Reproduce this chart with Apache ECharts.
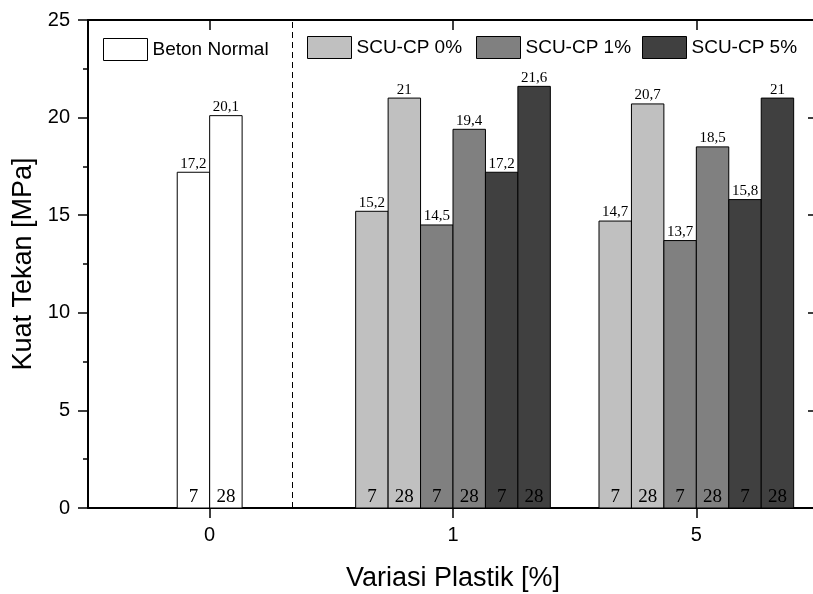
<!DOCTYPE html>
<html>
<head>
<meta charset="utf-8">
<script src="https://cdn.jsdelivr.net/npm/echarts@6/dist/echarts.min.js"></script>
<style>
html,body{margin:0;padding:0;background:#fff;}
#chart{width:813px;height:594px;}
</style>
</head>
<body>
<div id="chart"></div>
<script>
// ---- data ----
const categories = ['0', '1', '5'];
const ageLabels = ['7', '28'];
const mixNames = ['Beton Normal', 'SCU-CP 0%', 'SCU-CP 1%', 'SCU-CP 5%'];
const mixColors = ['#ffffff', '#c0c0c0', '#808080', '#404040'];
// category index for each mix's values
const betonCats = [0];
const scuCats = [1, 2];
const beton7 = [17.2];
const beton28 = [20.1];
const scu0_7 = [15.2, 14.7];
const scu0_28 = [21, 20.7];
const scu1_7 = [14.5, 13.7];
const scu1_28 = [19.4, 18.5];
const scu5_7 = [17.2, 15.8];
const scu5_28 = [21.6, 21];
const yTicks = [0, 5, 10, 15, 20, 25];
const separatorAt = 0.34;

const FONT = '"Liberation Sans", Arial, sans-serif';
const SERIF = '"Liberation Serif", "Times New Roman", serif';
const barFrac = 2 / 15;

function fmt(v) { return String(v).replace('.', ','); }

function build(cats, v7, v28) {
  return cats.map((c, i) => [c, v7[i], v28[i]]);
}

function makeSeries(mixIdx, slot, mixCount, data) {
  return {
    type: 'custom',
    name: mixNames[mixIdx],
    xAxisIndex: 0,
    yAxisIndex: 0,
    itemStyle: { color: mixColors[mixIdx], borderColor: '#000', borderWidth: 1 },
    encode: { x: 0, y: [1, 2] },
    data: data,
    z: 3,
    renderItem: function (params, api) {
      const cat = api.value(0);
      const base = api.coord([cat, 0]);
      const spacing = api.size([1, 0])[0];
      const w = spacing * barFrac;
      const nBars = mixCount * 2;
      const children = [];
      for (let k = 0; k < 2; k++) {
        const val = api.value(1 + k);
        const top = api.coord([cat, val])[1];
        const left = base[0] - nBars / 2 * w + (slot * 2 + k) * w;
        children.push({
          type: 'rect',
          shape: { x: left, y: top, width: w, height: base[1] - top },
          style: { fill: mixColors[mixIdx], stroke: '#000', lineWidth: 1 }
        });
        children.push({
          type: 'text',
          style: {
            x: left + w / 2, y: top - 1, text: fmt(val),
            textAlign: 'center', textVerticalAlign: 'bottom',
            font: '15px ' + SERIF, fill: '#000'
          }
        });
        children.push({
          type: 'text',
          style: {
            x: left + w / 2, y: base[1] - 11, text: ageLabels[k],
            textAlign: 'center', textVerticalAlign: 'middle',
            font: '19px ' + SERIF, fill: '#000'
          }
        });
      }
      return { type: 'group', children: children };
    }
  };
}

const series = [
  makeSeries(0, 0, 1, build(betonCats, beton7, beton28)),
  makeSeries(1, 0, 3, build(scuCats, scu0_7, scu0_28)),
  makeSeries(2, 1, 3, build(scuCats, scu1_7, scu1_28)),
  makeSeries(3, 2, 3, build(scuCats, scu5_7, scu5_28))
];
series[0].markLine = {
  silent: true,
  symbol: ['none', 'none'],
  label: { show: false },
  lineStyle: { color: '#000', type: [6, 4], width: 1 },
  data: [{ xAxis: separatorAt }]
};

function legendAt(idx, left, top) {
  return {
    left: left, top: top, padding: 0,
    itemWidth: 44, itemHeight: 22, itemGap: 10, itemTextGap: 5,
    icon: 'rect',
    selectedMode: false,
    textStyle: { fontFamily: FONT, fontSize: 19, color: '#000' },
    data: [{ name: mixNames[idx], itemStyle: { color: mixColors[idx], borderColor: '#000', borderWidth: 1 } }]
  };
}

const tickIdx = categories.map((c, i) => i);

const option = {
  animation: false,
  backgroundColor: '#fff',
  grid: { left: 88, top: 20, width: 730, height: 488, containLabel: false, outerBoundsMode: 'none' },
  legend: [
    legendAt(0, 103, 38),
    legendAt(1, 307, 36),
    legendAt(2, 476, 36),
    legendAt(3, 642, 36)
  ],
  xAxis: [
    {
      type: 'value', min: -0.5, max: 2.5, position: 'bottom',
      name: 'Variasi Plastik [%]', nameLocation: 'middle', nameGap: 57,
      nameTextStyle: { fontFamily: FONT, fontSize: 27, color: '#000' },
      axisLine: { show: true, onZero: false, lineStyle: { color: '#000', width: 2 } },
      axisTick: { show: true, inside: false, length: 10, customValues: tickIdx, lineStyle: { color: '#000', width: 1.5 } },
      axisLabel: { show: true, customValues: tickIdx, margin: 17, formatter: v => categories[Math.round(v)], fontFamily: FONT, fontSize: 20, color: '#000' },
      splitLine: { show: false }
    },
    {
      type: 'value', min: -0.5, max: 2.5, position: 'top',
      axisLine: { show: true, onZero: false, lineStyle: { color: '#000', width: 2 } },
      axisTick: { show: true, inside: true, length: 10, customValues: tickIdx, lineStyle: { color: '#000', width: 1.5 } },
      axisLabel: { show: false },
      splitLine: { show: false }
    }
  ],
  yAxis: [
    {
      type: 'value', min: 0, max: 25, interval: 5, position: 'left',
      name: 'Kuat Tekan [MPa]', nameLocation: 'middle', nameGap: 40,
      nameTextStyle: { fontFamily: FONT, fontSize: 27, color: '#000' },
      axisLine: { show: true, onZero: false, lineStyle: { color: '#000', width: 2 } },
      axisTick: { show: true, inside: false, length: 10, lineStyle: { color: '#000', width: 1.5 } },
      minorTick: { show: true, splitNumber: 2, length: 5, lineStyle: { color: '#000', width: 1.5 } },
      axisLabel: { show: true, margin: 18, fontFamily: FONT, fontSize: 20, color: '#000',
                   customValues: yTicks },
      splitLine: { show: false },
      minorSplitLine: { show: false }
    },
    {
      type: 'value', min: 0, max: 25, interval: 5, position: 'right',
      axisLine: { show: true, onZero: false, lineStyle: { color: '#000', width: 2 } },
      axisTick: { show: true, inside: true, length: 10, lineStyle: { color: '#000', width: 1.5 } },
      minorTick: { show: true, splitNumber: 2, length: 5, lineStyle: { color: '#000', width: 1.5 } },
      axisLabel: { show: false },
      splitLine: { show: false }
    }
  ],
  series: series
};

const chart = echarts.init(document.getElementById('chart'), null, { renderer: 'canvas' });
chart.setOption(option);
</script>
</body>
</html>
